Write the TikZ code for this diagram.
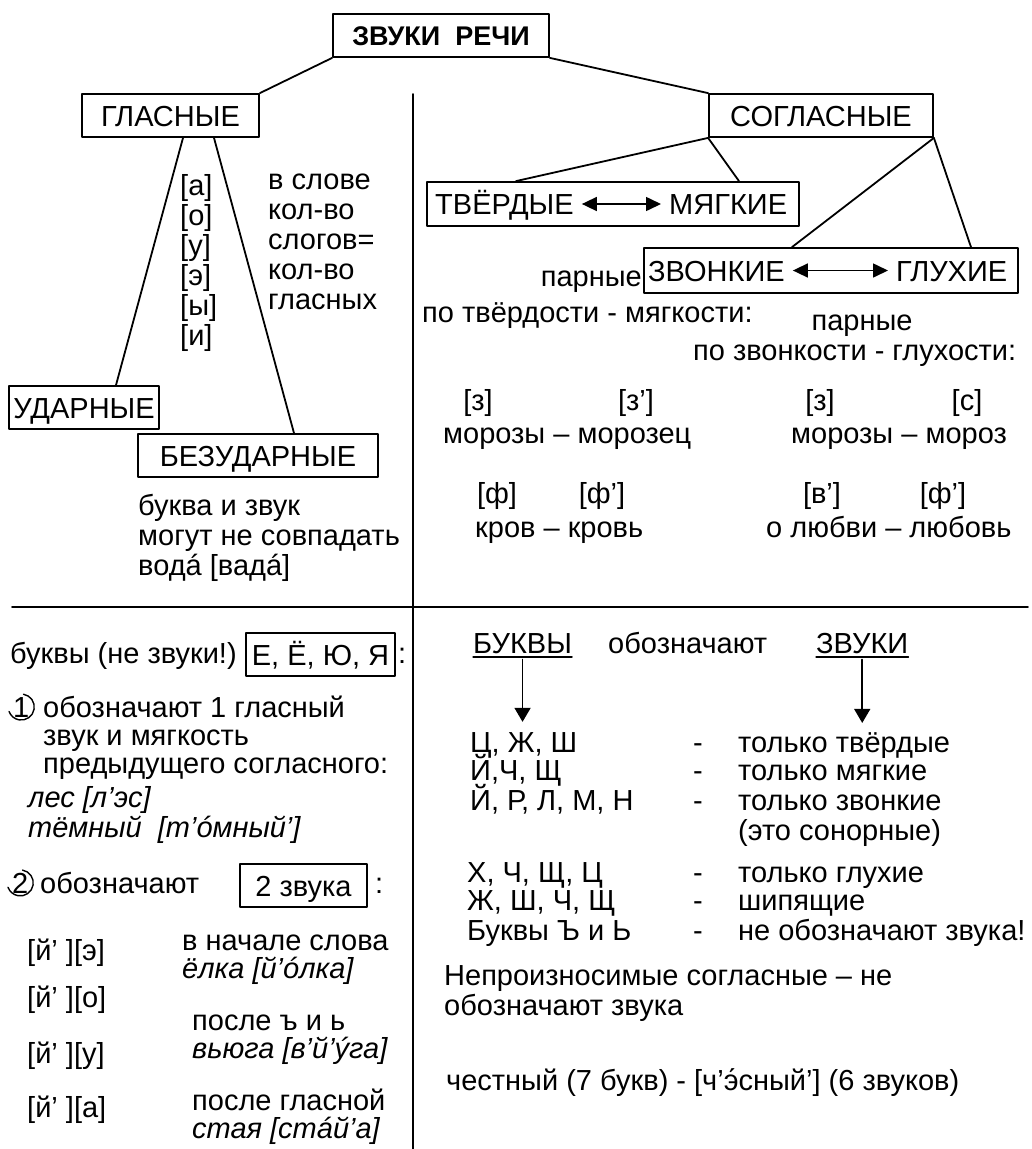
\documentclass[tikz,border=0pt]{standalone}
\usepackage{fontspec}
\setmainfont{Liberation Sans}
\usetikzlibrary{arrows.meta,positioning}
\tikzset{every picture/.style={line cap=round, line join=round}}
\tikzset{box/.style={draw, rectangle, line width=1.8pt, inner sep=0pt,
  text height=21pt, text depth=0pt, minimum height=43pt}}
\tikzset{line/.style={draw, line width=1.8pt}}
\tikzset{txt/.style={anchor=base west, inner sep=0pt, align=left}}
\tikzset{ctr/.style={anchor=base, inner sep=0pt}}
\tikzset{pairarrow/.style={{Triangle[length=15pt,width=14pt]}-{Triangle[length=15pt,width=14pt]},
  line width=1.6pt, shorten <=8pt, shorten >=8pt}}
\tikzset{downarrow/.style={-{Triangle[length=14pt,width=16pt]}, line width=1.6pt}}
\tikzset{ring/.style={line width=1.4pt}}
\tikzset{uline/.style={line width=1.2pt}}

\begin{document}
\begin{tikzpicture}[x=1pt, y=-1pt, font=\fontsize{29}{30}\selectfont]
  \useasboundingbox (0,0) rectangle (1032,1149);

  % звуки речи
  \node[box, minimum width=216pt, text height=19pt, font=\fontsize{27}{28}\selectfont\bfseries] (zvuki) at (441,35.5) {ЗВУКИ\ \ РЕЧИ};
  \node[box, minimum width=177pt] (glas) at (170.5,115.5) {ГЛАСНЫЕ};
  \node[box, minimum width=224pt] (sogl) at (821,115.5) {СОГЛАСНЫЕ};
  \draw[line] (zvuki.south west) -- (glas.north east);
  \draw[line] (zvuki.south east) -- (sogl.north west);

  % разделители
  \coordinate (vtop) at (413,94);
  \coordinate (vbot) at (413,1149);
  \coordinate (hleft) at (12,607);
  \coordinate (hright) at (1028,607);
  \draw[line] (vtop) -- (vbot);
  \draw[line] (hleft) -- (hright);

  % гласные (base = последняя строка)
  \node[box, minimum width=150pt] (udarn) at (84,407.5) {УДАРНЫЕ};
  \node[box, minimum width=240pt] (bezud) at (258,455.5) {БЕЗУДАРНЫЕ};
  \draw[line] ([xshift=12.5pt]glas.south) -- ([xshift=32pt]udarn.north);
  \draw[line] ([xshift=43.5pt]glas.south) -- ([xshift=36pt]bezud.north);
  \node[txt] (vlist) at (180,345) {[а]\\{}[о]\\{}[у]\\{}[э]\\{}[ы]\\{}[и]};
  \node[txt] (slogi) at (268,309) {в слове\\кол-во\\слогов=\\кол-во\\гласных};
  \node[txt] (bukvazvuk) at (138,575) {буква и звук\\могут не совпадать\\водá [вадá]};

  % согласные
  \node[box, minimum width=372pt, minimum height=44pt] (tvmg) at (613,204) {};
  \node[txt] (tverd) at (435,214.5) {ТВЁРДЫЕ};
  \node[txt] (myagk) at (669,214.5) {МЯГКИЕ};
  \draw[pairarrow] (tverd.east |- tvmg.center) -- (myagk.west |- tvmg.center);
  \node[box, minimum width=374pt, minimum height=45pt] (zvgl) at (831,270.5) {};
  \node[txt] (zvonk) at (648,281) {ЗВОНКИЕ};
  \node[txt] (gluh) at (896,281) {ГЛУХИЕ};
  \draw[pairarrow] (zvonk.east |- zvgl.center) -- (gluh.west |- zvgl.center);
  \draw[line] (sogl.south west) -- ([xshift=-97pt]tvmg.north);
  \draw[line] (sogl.south west) -- ([xshift=126pt]tvmg.north);
  \draw[line] (sogl.south east) -- ([xshift=-39pt]zvgl.north);
  \draw[line] (sogl.south east) -- ([xshift=140pt]zvgl.north);

  \node[txt, anchor=base east] (parn1) at (642,286) {парные};
  \node[txt] (potverd) at (422,322) {по твёрдости - мягкости:};
  \node[ctr] (parn2) at (862,330) {парные};
  \node[txt] (pozvon) at (693,360) {по звонкости - глухости:};

  \node[ctr] (z1) at (478,410) {[з]};
  \node[ctr] (z2) at (636,410) {[з’]};
  \node[ctr] (z3) at (820,410) {[з]};
  \node[ctr] (s1) at (967,410) {[с]};
  \node[txt] (moroz1) at (443,443) {морозы – морозец};
  \node[txt] (moroz2) at (791,443) {морозы – мороз};
  \node[ctr] (f1) at (497,503) {[ф]};
  \node[ctr] (f2) at (602,503) {[ф’]};
  \node[ctr] (v1) at (822,503) {[в’]};
  \node[ctr] (f3) at (943,503) {[ф’]};
  \node[txt] (krov) at (475,537) {кров – кровь};
  \node[txt] (lyub) at (766,537) {о любви – любовь};

  % буквы е, ё, ю, я
  \node[txt] (bukvyne) at (10,663) {буквы (не звуки!)};
  \node[box, minimum width=149pt] (eeyuya) at (320.5,654.5) {Е, Ё, Ю, Я};
  \node[txt] (colon1) at (398,663) {:};
  \node[txt] (num1) at (13,717) {1};
  \draw[ring] (num1.center) ++(80:13pt) arc[start angle=80, end angle=-160, radius=13pt];
  \node[txt, font=\fontsize{29}{28}\selectfont] (oboz1) at (43,773) {обозначают 1 гласный\\звук и мягкость\\предыдущего согласного:};
  \node[txt, font=\fontsize{29}{30}\selectfont\itshape] (les) at (28,837) {лес [л’эс]\\тёмный\ \ [т’óмный’]};
  \node[txt] (num2) at (12,893) {2};
  \draw[ring] (num2.center) ++(80:13pt) arc[start angle=80, end angle=-160, radius=13pt];
  \node[txt] (oboz2) at (40,893) {обозначают};
  \node[box, minimum width=127pt] (dvazv) at (303.5,885.5) {2 звука};
  \node[txt] (colon2) at (375,893) {:};
  \node[txt] (yo1) at (27,960) {[й’ ][э]};
  \node[txt] (yo2) at (27,1007) {[й’ ][о]};
  \node[txt] (yo3) at (27,1063) {[й’ ][у]};
  \node[txt] (yo4) at (27,1117) {[й’ ][а]};
  \node[txt, font=\fontsize{29}{28}\selectfont] (nachalo) at (182,978) {в начале слова\\{\itshape ёлка [й’óлка]}};
  \node[txt, font=\fontsize{29}{28}\selectfont] (poslezn) at (192,1058) {после ъ и ь\\{\itshape вьюга [в’й’ýга]}};
  \node[txt, font=\fontsize{29}{28}\selectfont] (poslegl) at (192,1138) {после гласной\\{\itshape стая [стáй’а]}};

  % буквы и звуки
  \node[txt] (bukvy) at (473,653) {БУКВЫ};
  \node[txt] (oboznach) at (608,653) {обозначают};
  \node[txt] (zvuki2) at (816,653) {ЗВУКИ};
  \draw[uline] ([yshift=-4pt]bukvy.base west) -- ([yshift=-4pt]bukvy.base east);
  \draw[uline] ([yshift=-4pt]zvuki2.base west) -- ([yshift=-4pt]zvuki2.base east);

  \node[txt] (r1l) at (470,752) {Ц, Ж, Ш};
  \node[ctr] (r1d) at (698,752) {-};
  \node[txt] (r1r) at (738,752) {только твёрдые};
  \node[txt] (r2l) at (470,780) {Й,Ч, Щ};
  \node[ctr] (r2d) at (698,780) {-};
  \node[txt] (r2r) at (738,780) {только мягкие};
  \node[txt] (r3l) at (470,810) {Й, Р, Л, М, Н};
  \node[ctr] (r3d) at (698,810) {-};
  \node[txt] (r3r) at (738,810) {только звонкие};
  \node[txt] (r3b) at (738,840) {(это сонорные)};
  \node[txt] (r4l) at (467,882) {Х, Ч, Щ, Ц};
  \node[ctr] (r4d) at (698,882) {-};
  \node[txt] (r4r) at (738,882) {только глухие};
  \node[txt] (r5l) at (467,910) {Ж, Ш, Ч, Щ};
  \node[ctr] (r5d) at (698,910) {-};
  \node[txt] (r5r) at (738,910) {шипящие};
  \node[txt] (r6l) at (467,940) {Буквы Ъ и Ь};
  \node[ctr] (r6d) at (698,940) {-};
  \node[txt] (r6r) at (738,940) {не обозначают звука!};

  \draw[downarrow, shorten <=6pt, shorten >=10pt] (bukvy.south) -- (bukvy.south |- r1l.north);
  \draw[downarrow, shorten <=6pt, shorten >=9pt] (zvuki2.south) -- (zvuki2.south |- r1r.north);

  \node[txt] (neproizn) at (444,1015) {Непроизносимые согласные – не\\обозначают звука};
  \node[txt] (chestny) at (446,1090) {честный (7 букв) - [ч’э́сный’] (6 звуков)};
\end{tikzpicture}
\end{document}
